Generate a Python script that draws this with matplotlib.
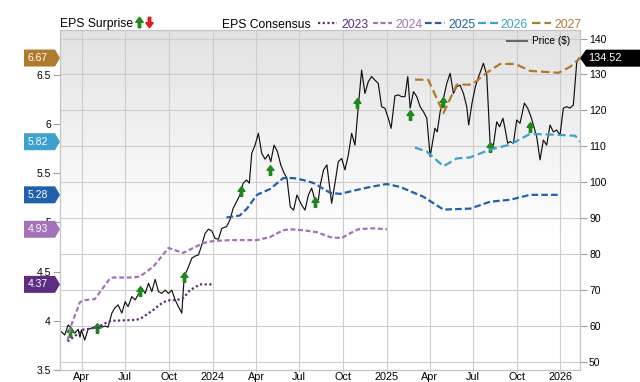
import numpy as np
import pandas as pd
import matplotlib
matplotlib.use("Agg")
import matplotlib.pyplot as plt
from matplotlib.path import Path
from matplotlib.patches import Polygon
from matplotlib.lines import Line2D
import matplotlib.transforms as mtransforms

plt.rcParams['font.family'] = ['Liberation Sans', 'DejaVu Sans']

# ---------------- data ----------------
price_dates = [
    '2023-02-17', '2023-02-24', '2023-03-03', '2023-03-10', '2023-03-17', '2023-03-24', '2023-03-28', '2023-03-31',
    '2023-04-07', '2023-04-14', '2023-04-21', '2023-04-28', '2023-05-05', '2023-05-13', '2023-05-19', '2023-05-26',
    '2023-06-03', '2023-06-09', '2023-06-16', '2023-06-24', '2023-07-01', '2023-07-07', '2023-07-15', '2023-07-22',
    '2023-07-28', '2023-08-05', '2023-08-12', '2023-08-19', '2023-08-26', '2023-09-02', '2023-09-09', '2023-09-16',
    '2023-09-23', '2023-09-30', '2023-10-07', '2023-10-14', '2023-10-21', '2023-10-28', '2023-11-02', '2023-11-11',
    '2023-11-18', '2023-11-25', '2023-12-02', '2023-12-09', '2023-12-16', '2023-12-23', '2023-12-30', '2024-01-06',
    '2024-01-13', '2024-01-20', '2024-01-30', '2024-02-06', '2024-02-13', '2024-02-20', '2024-02-27', '2024-03-05',
    '2024-03-12', '2024-03-18', '2024-03-23', '2024-03-30', '2024-04-06', '2024-04-13', '2024-04-20', '2024-04-27',
    '2024-05-02', '2024-05-09', '2024-05-16', '2024-05-23', '2024-05-30', '2024-06-05', '2024-06-12', '2024-06-19',
    '2024-06-26', '2024-07-06', '2024-07-13', '2024-07-20', '2024-07-27', '2024-08-03', '2024-08-10', '2024-08-14',
    '2024-08-21', '2024-08-28', '2024-09-07', '2024-09-14', '2024-09-21', '2024-09-28', '2024-10-05', '2024-10-12',
    '2024-10-19', '2024-10-26', '2024-11-02', '2024-11-09', '2024-11-16', '2024-11-23', '2024-11-30', '2024-12-07',
    '2024-12-14', '2024-12-21', '2024-12-28', '2025-01-04', '2025-01-10', '2025-01-18', '2025-01-25', '2025-02-01',
    '2025-02-08', '2025-02-14', '2025-02-19', '2025-02-26', '2025-03-05', '2025-03-12', '2025-03-19', '2025-03-26',
    '2025-04-02', '2025-04-12', '2025-04-17', '2025-04-23', '2025-04-30', '2025-05-07', '2025-05-14', '2025-05-21',
    '2025-05-28', '2025-06-04', '2025-06-11', '2025-06-18', '2025-06-22', '2025-06-29', '2025-07-06', '2025-07-13',
    '2025-07-23', '2025-07-30', '2025-08-06', '2025-08-13', '2025-08-20', '2025-08-26', '2025-09-02', '2025-09-07',
    '2025-09-12', '2025-09-17', '2025-09-24', '2025-10-01', '2025-10-08', '2025-10-17', '2025-10-24', '2025-10-31',
    '2025-11-07', '2025-11-12', '2025-11-19', '2025-11-26', '2025-12-03', '2025-12-10', '2025-12-17', '2025-12-24',
    '2025-12-31', '2026-01-07', '2026-01-14', '2026-01-21', '2026-01-28', '2026-02-04', '2026-02-08']
price_values = [
    58.3, 57.4, 60.2, 59.3, 57.9, 59.0, 56.8, 58.8,
    56.0, 59.0, 59.3, 59.7, 60.2, 59.6, 59.9, 59.6,
    63.5, 64.9, 65.8, 63.5, 66.7, 65.3, 68.1, 67.2,
    68.6, 70.4, 69.0, 71.8, 69.5, 72.9, 69.5, 69.0,
    69.9, 69.0, 69.9, 67.2, 65.3, 63.5, 73.6, 76.4,
    78.8, 79.4, 79.7, 82.5, 85.7, 86.9, 86.4, 84.3,
    84.1, 87.1, 87.6, 89.4, 92.7, 94.5, 96.4, 99.7,
    100.6, 99.7, 108.0, 110.3, 113.6, 108.0, 106.4, 107.7,
    105.7, 110.3, 108.5, 104.8, 102.5, 101.1, 93.1, 92.2,
    96.4, 93.6, 92.2, 96.4, 98.3, 95.0, 95.0, 99.2,
    103.4, 104.8, 94.1, 99.7, 105.7, 106.6, 103.4, 107.5,
    113.6, 110.3, 121.0, 131.2, 124.7, 128.0, 129.4, 128.4,
    127.5, 121.0, 120.6, 117.8, 115.0, 124.0, 124.3, 123.8,
    123.8, 129.4, 120.6, 125.2, 123.8, 121.0, 119.6, 117.8,
    107.1, 115.0, 114.0, 119.6, 123.3, 127.5, 130.3, 124.7,
    126.6, 127.0, 124.7, 121.0, 115.9, 122.0, 126.6, 129.4,
    133.1, 129.8, 110.8, 110.3, 116.8, 115.4, 117.8, 114.5,
    110.8, 111.3, 110.8, 117.3, 116.4, 122.0, 120.6, 118.2,
    115.0, 112.6, 106.2, 111.7, 110.3, 115.9, 114.0, 114.5,
    113.1, 120.6, 121.0, 120.6, 121.5, 133.1, 134.52]

surprise_dates = ['2023-03-07', '2023-05-02', '2023-08-01', '2023-11-02', '2024-02-29', '2024-04-30',
                  '2024-08-02', '2024-10-30', '2025-02-19', '2025-04-30', '2025-08-05', '2025-10-28']
surprise_values = [58.3, 59.3, 69.7, 73.5, 97.5, 103.4, 94.5, 122.1, 118.7, 122.4, 109.9, 115.4]

eps_2023_dates = ['2023-03-02', '2023-03-16', '2023-04-04', '2023-05-02', '2023-05-26', '2023-06-06',
                  '2023-07-25', '2023-08-05', '2023-08-29', '2023-09-19', '2023-10-03', '2023-10-17',
                  '2023-10-31', '2023-11-14', '2023-12-05', '2024-01-02']
eps_2023 = [3.79, 3.84, 3.91, 3.93, 3.99, 4.00, 4.01, 4.03, 4.11, 4.19, 4.21, 4.21, 4.23, 4.31, 4.37, 4.37]

eps_2024_dates = ['2023-03-02', '2023-03-10', '2023-03-28', '2023-04-07', '2023-04-28', '2023-05-30',
                  '2023-06-06', '2023-07-18', '2023-08-01', '2023-08-29', '2023-09-30', '2023-10-31',
                  '2023-12-12', '2024-01-02', '2024-02-06', '2024-04-03', '2024-04-30', '2024-05-28',
                  '2024-06-12', '2024-07-10', '2024-08-07', '2024-09-04', '2024-09-28', '2024-10-16',
                  '2024-11-02', '2024-12-01', '2025-01-01']
eps_2024 = [3.80, 3.96, 4.19, 4.21, 4.22, 4.43, 4.44, 4.44, 4.45, 4.55, 4.74, 4.69, 4.79, 4.81,
            4.82, 4.82, 4.85, 4.92, 4.93, 4.92, 4.90, 4.85, 4.84, 4.89, 4.93, 4.94, 4.93]

eps_2025_dates = ['2024-01-30', '2024-02-27', '2024-03-13', '2024-04-03', '2024-05-01', '2024-05-28',
                  '2024-06-19', '2024-07-10', '2024-07-31', '2024-09-04', '2024-09-25', '2024-10-30',
                  '2024-11-27', '2025-01-01', '2025-01-29', '2025-03-19', '2025-04-30', '2025-06-25',
                  '2025-08-06', '2025-09-17', '2025-10-29', '2025-12-31']
eps_2025 = [5.05, 5.07, 5.14, 5.28, 5.34, 5.45, 5.45, 5.43, 5.40, 5.30, 5.29, 5.33, 5.36, 5.39,
            5.36, 5.26, 5.13, 5.14, 5.21, 5.23, 5.28, 5.28]

eps_2026_dates = ['2025-03-01', '2025-03-26', '2025-04-30', '2025-05-28', '2025-06-25', '2025-08-06',
                  '2025-09-17', '2025-10-29', '2025-12-24', '2026-02-01', '2026-02-11']
eps_2026 = [5.76, 5.72, 5.57, 5.65, 5.66, 5.74, 5.79, 5.90, 5.89, 5.88, 5.82]

eps_2027_dates = ['2025-03-01', '2025-03-29', '2025-04-30', '2025-05-28', '2025-06-29', '2025-07-30',
                  '2025-08-27', '2025-09-28', '2025-10-29', '2025-12-28', '2026-01-21', '2026-02-11']
eps_2027 = [6.45, 6.45, 6.11, 6.40, 6.40, 6.52, 6.61, 6.61, 6.54, 6.52, 6.58, 6.67]

years = ['2023', '2024', '2025', '2026', '2027']
year_colors = ['#5c2d82', '#a472b8', '#2060ad', '#3da0cf', '#b07a2e']
year_styles = [(0, (1.0, 1.1)), (0, (2.2, 1.2)), (0, (3.0, 1.4)), (0, (3.6, 1.8)), (0, (3.8, 1.8))]

xtick_dates = ['2023-04-01', '2023-07-01', '2023-10-01', '2024-01-01', '2024-04-01', '2024-07-01',
               '2024-10-01', '2025-01-01', '2025-04-01', '2025-07-01', '2025-10-01', '2026-01-01']
xtick_labels = ['Apr', 'Jul', 'Oct', '2024', 'Apr', 'Jul', 'Oct', '2025', 'Apr', 'Jul', 'Oct', '2026']
eps_ticks = [3.5, 4.0, 4.5, 5.0, 5.5, 6.0, 6.5]
eps_tick_labels = ['3.5', '4', '4.5', '5', '5.5', '6', '6.5']
price_ticks = [50, 60, 70, 80, 90, 100, 110, 120, 130, 140]
x_range = ['2023-02-14', '2026-02-11']
eps_range = (3.5, 6.955)
price_range = (47.66, 142.37)

# ---------------- figure ----------------
W, H = 640, 382
fig = plt.figure(figsize=(W / 100, H / 100), dpi=100)
rect = [60 / W, (H - 370) / H, 520 / W, 340 / H]
axp = fig.add_axes(rect)
axe = axp.twinx()
axp.yaxis.tick_right()
axe.yaxis.tick_left()

# gradient background
g = np.linspace(0, 1, 256)
v = np.clip(0.885 + 0.115 * g / 0.6, 0, 1)
grad = np.dstack([v, v, v]).reshape(256, 1, 3)
axp.imshow(grad, extent=(0, 1, 0, 1), transform=axp.transAxes, aspect='auto',
           interpolation='bilinear', zorder=-5)

axp.set_axisbelow(True)
axp.grid(True, color='#cdcdcd', lw=0.8)

# arrow marker
up_arrow = Path([(0, 0.5), (0.36, 0.02), (0.12, 0.02), (0.12, -0.5), (-0.12, -0.5),
                 (-0.12, 0.02), (-0.36, 0.02), (0, 0.5)], closed=True)
down_arrow = Path([(0, -0.5), (0.36, -0.02), (0.12, -0.02), (0.12, 0.5), (-0.12, 0.5),
                   (-0.12, -0.02), (-0.36, -0.02), (0, -0.5)], closed=True)
green = '#1b8a1b'
red = '#e01b1b'

axp.plot(pd.to_datetime(price_dates), price_values, color='#111111', lw=0.85, zorder=2)
axp.plot(pd.to_datetime(surprise_dates), surprise_values, ls='none', marker=up_arrow,
         ms=7, color=green, zorder=3)

eps_dates = [eps_2023_dates, eps_2024_dates, eps_2025_dates, eps_2026_dates, eps_2027_dates]
eps_vals = [eps_2023, eps_2024, eps_2025, eps_2026, eps_2027]
for d, vals, c, ls in zip(eps_dates, eps_vals, year_colors, year_styles):
    axe.plot(pd.to_datetime(d), vals, color=c, lw=1.6, ls=ls, zorder=2)

axp.set_xlim(pd.to_datetime(x_range[0]), pd.to_datetime(x_range[1]))
axp.set_ylim(*price_range)
axe.set_ylim(*eps_range)

axp.set_xticks(pd.to_datetime(xtick_dates))
axp.set_xticklabels(xtick_labels)
axp.set_yticks(price_ticks)
axe.set_yticks(eps_ticks)
axe.set_yticklabels(eps_tick_labels)

axp.tick_params(axis='x', length=1.5, color='#c4c4c4', labelsize=7.8, pad=0.2)
axp.tick_params(axis='y', length=5, width=0.8, color='#a0a0a0', labelsize=7.5, pad=1.5)
axe.tick_params(axis='y', length=5, width=0.8, color='#a0a0a0', labelsize=7.5, pad=1.5)
for ax in (axp, axe):
    for s in ax.spines.values():
        s.set_color('#c4c4c4')
        s.set_linewidth(0.8)

# left badges (last consensus values)
blend_e = mtransforms.blended_transform_factory(axe.transAxes, axe.transData)
for vals, c in zip(eps_vals, year_colors):
    last = vals[-1]
    tr = mtransforms.Affine2D() + mtransforms.ScaledTranslation(0, last, blend_e)
    fig.add_artist(Polygon([(-36, -8.5), (-5, -8.5), (0, 0), (-5, 8.5), (-36, 8.5)], closed=True,
                           transform=tr, facecolor=c, edgecolor='none', zorder=10))
    fig.text(-22, 0, f'{last:.2f}', transform=tr, color='white', fontsize=7.5,
             ha='center', va='center', zorder=11)

# right price badge
blend_p = mtransforms.blended_transform_factory(axp.transAxes, axp.transData)
last_price = price_values[-1]
tr = mtransforms.Affine2D() + mtransforms.ScaledTranslation(1, last_price, blend_p)
fig.add_artist(Polygon([(0, 0), (6, 8.5), (62, 8.5), (62, -8.5), (6, -8.5)], closed=True,
                       transform=tr, facecolor='black', edgecolor='none', zorder=10))
fig.text(25, 0, f'{last_price:.2f}', transform=tr, color='white', fontsize=7.8,
         ha='center', va='center', zorder=11)

# header legend
def fx(px):
    return px / W

def fy(py):
    return 1 - py / H

fig.text(fx(60), fy(27.5), 'EPS Surprise', fontsize=8.7, ha='left', va='baseline')
fig.add_artist(Line2D([fx(138.5)], [fy(22)], marker=up_arrow, ms=7.5, color=green, ls='none'))
fig.add_artist(Line2D([fx(148.5)], [fy(22)], marker=down_arrow, ms=7.5, color=red, ls='none'))
fig.text(fx(221.5), fy(27.5), 'EPS Consensus', fontsize=8.7, ha='left', va='baseline')

leg_line_x = [(318, 337), (372.5, 391.5), (425, 445), (478, 498.5), (531.5, 551)]
leg_text_x = [341.5, 395, 448.3, 500.7, 554]
for (x0, x1), tx, yr, c, ls in zip(leg_line_x, leg_text_x, years, year_colors, year_styles):
    fig.add_artist(Line2D([fx(x0), fx(x1)], [fy(22.5), fy(22.5)], color=c, lw=1.6, ls=ls))
    fig.text(fx(tx), fy(27.5), yr, color=c, fontsize=8.7, ha='left', va='baseline')

# price legend inside plot
fig.add_artist(Line2D([fx(507), fx(527)], [fy(41), fy(41)], color='#666666', lw=1.5, zorder=12))
fig.text(fx(532), fy(41.5), 'Price ($)', fontsize=7.3, ha='left', va='center', zorder=12)

fig.savefig('out.png', dpi=100)
